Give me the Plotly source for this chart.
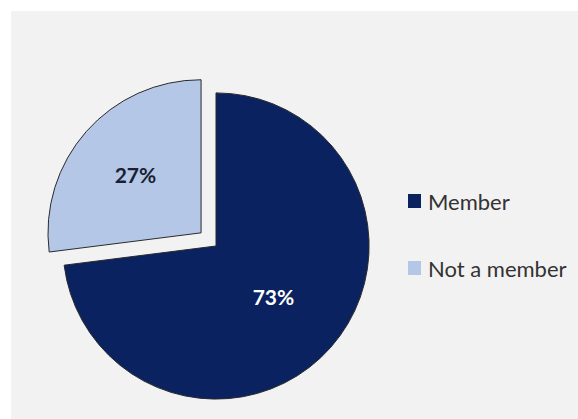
import plotly.graph_objects as go

# Membership split
labels = ["Member", "Not a member"]
values = [73, 27]
colors = ["#0b2260", "#b4c7e7"]
text_colors = ["#ffffff", "#1a1f33"]
pulls = [0, 0.13]

W, H = 578, 419
ML, MT, MR, MB = 43, 73, 189, 0
PW, PH = W - ML - MR, H - MT - MB


def px_x(x):
    return (x - ML) / PW


def px_y(y):
    return (H - MB - y) / PH


fig = go.Figure(
    go.Pie(
        labels=labels,
        values=values,
        sort=False,
        direction="clockwise",
        rotation=0,
        pull=pulls,
        marker=dict(colors=colors, line=dict(color="#2a2a2a", width=1)),
        textinfo="percent",
        texttemplate="<b>%{percent:.0%}</b>",
        textposition="inside",
        insidetextorientation="horizontal",
        textfont=dict(family="Lato, sans-serif", size=21, color=text_colors),
        showlegend=False,
        hoverinfo="label+percent",
    )
)

shapes = [
    # white frame strips along the top and left edges
    dict(type="rect", xref="paper", yref="paper",
         x0=px_x(0), x1=px_x(W), y0=px_y(11), y1=px_y(0),
         fillcolor="#ffffff", line=dict(width=0), layer="above"),
    dict(type="rect", xref="paper", yref="paper",
         x0=px_x(0), x1=px_x(11), y0=px_y(H), y1=px_y(0),
         fillcolor="#ffffff", line=dict(width=0), layer="above"),
]
annotations = []

# Custom legend: colour square + label for each slice
legend_y = [201, 268]
for lab, col, ly in zip(labels, colors, legend_y):
    shapes.append(dict(type="rect", xref="paper", yref="paper",
                       x0=px_x(408), x1=px_x(421), y0=px_y(ly + 7), y1=px_y(ly - 7),
                       fillcolor=col, line=dict(width=0), layer="above"))
    annotations.append(dict(x=px_x(426), y=px_y(ly), xref="paper", yref="paper",
                            text=lab, showarrow=False, xanchor="left", yanchor="middle",
                            font=dict(family="Lato, sans-serif", size=22, color="#333333")))

fig.update_layout(
    width=W,
    height=H,
    margin=dict(l=ML, r=MR, t=MT, b=MB, autoexpand=False),
    paper_bgcolor="#f2f2f2",
    plot_bgcolor="#f2f2f2",
    shapes=shapes,
    annotations=annotations,
)

fig.write_html("out.html")
